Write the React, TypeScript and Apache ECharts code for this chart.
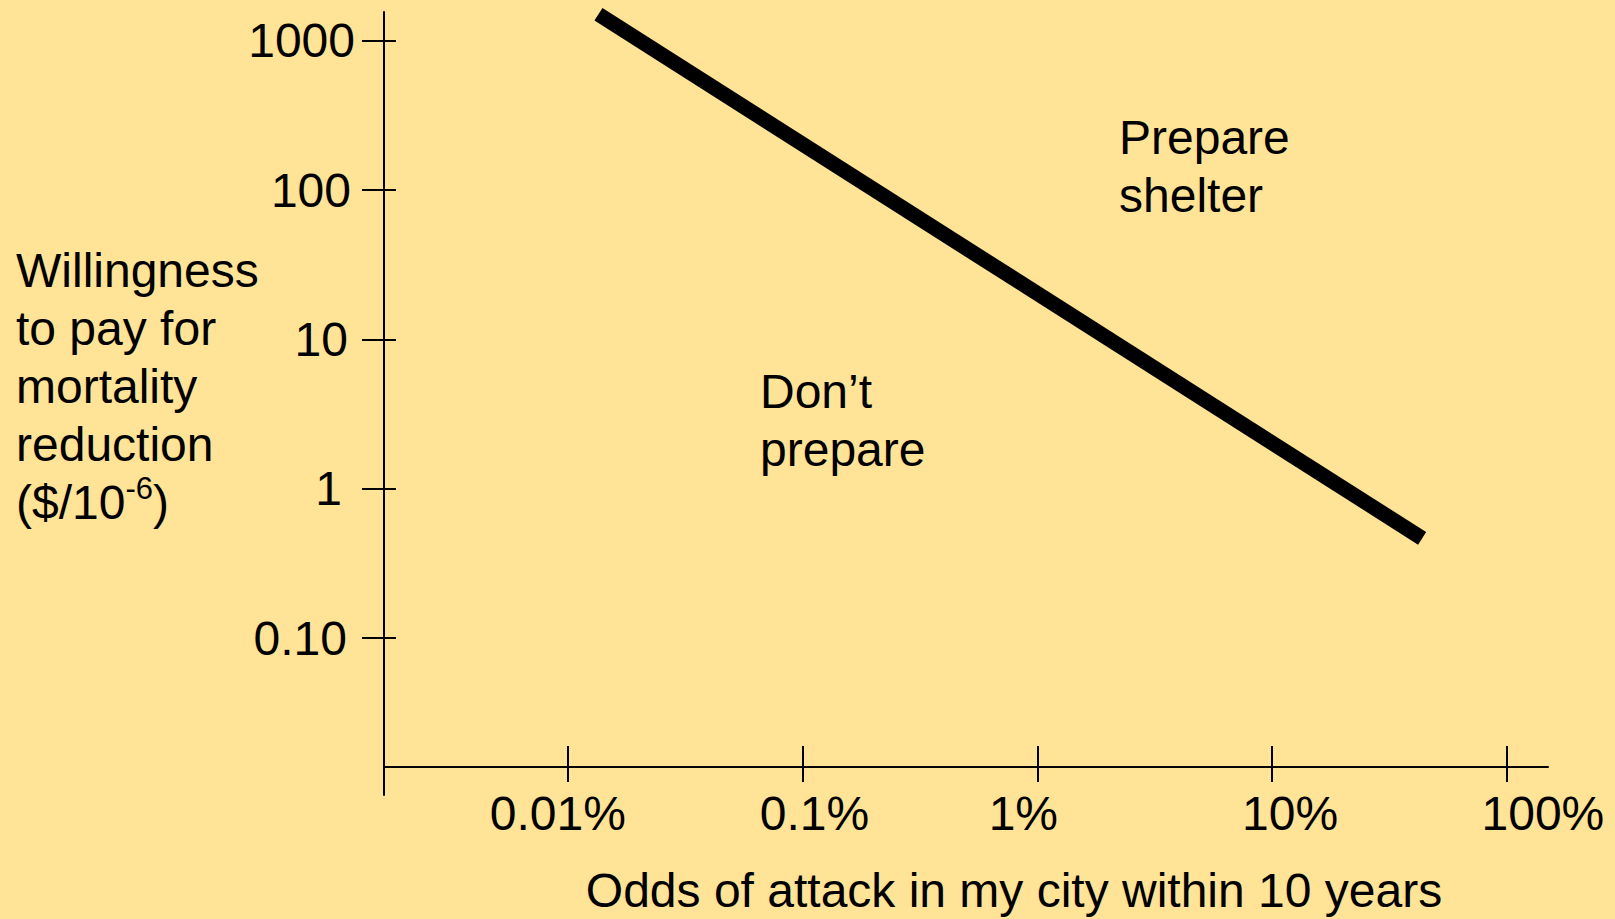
import React, { useEffect, useRef } from "react";
import * as echarts from "echarts";

// ---- data (percent odds on x, $/10^-6 on y) ----
const xTickValues = [0.01, 0.1, 1, 10, 100];
const xTickLabels = ["0.01%", "0.1%", "1%", "10%", "100%"];
const yTickValues = [0.1, 1, 10, 100, 1000];
const yTickLabels = ["0.10", "1", "10", "100", "1000"];
const xRange = [0.001649, 149.7];
const yRange = [0.008902, 1555];
const boundaryX = [0.01351, 43.56];
const boundaryY = [1501, 0.4654];
const xAxisTitle = "Odds of attack in my city within 10 years";
const yAxisTitleLines = ["Willingness", "to pay for", "mortality", "reduction", "($/10{sup|-6})"];
const regionAbove = ["Prepare", "shelter"];
const regionBelow = ["Don\u2019t", "prepare"];

const FONT = "'Liberation Sans', Arial, Helvetica, sans-serif";
const FS = 48;
const BG = "#FFE396";

// label nudges (positions, kept apart from the data)
const xLabelShift = [-10, 12, -14, 18, 36];
const yLabelPadRight = [8, 13, 7, 4, 0];

function idxOf(arr: number[], v: number) {
  let best = 0;
  let bd = Infinity;
  arr.forEach((a, i) => {
    const d = Math.abs(Math.log10(a) - Math.log10(v));
    if (d < bd) {
      bd = d;
      best = i;
    }
  });
  return best;
}

export default function App() {
  const ref = useRef<HTMLDivElement>(null);
  useEffect(() => {
    if (!ref.current) return;
    const chart = echarts.init(ref.current, undefined, { renderer: "svg" });

    const xRich: Record<string, any> = {};
    xTickLabels.forEach((_, i) => {
      const s = xLabelShift[i];
      xRich["x" + i] = {
        fontSize: FS,
        fontFamily: FONT,
        color: "#000",
        padding: s < 0 ? [0, -2 * s, 0, 0] : [0, 0, 0, 2 * s],
      };
    });
    const yRich: Record<string, any> = {};
    yTickLabels.forEach((_, i) => {
      yRich["y" + i] = {
        fontSize: FS,
        fontFamily: FONT,
        color: "#000",
        padding: [0, yLabelPadRight[i], 0, 0],
      };
    });

    const lineStyleAxis = { color: "#000", width: 2 };
    const baseX = {
      type: "log" as const,
      logBase: 10,
      min: xRange[0],
      max: xRange[1],
      position: "bottom" as const,
      offset: -28,
      splitLine: { show: false },
      gridIndex: 0,
    };
    const baseY = {
      type: "log" as const,
      logBase: 10,
      min: yRange[0],
      max: yRange[1],
      position: "left" as const,
      splitLine: { show: false },
      gridIndex: 0,
    };

    const option: any = {
      animation: false,
      backgroundColor: BG,
      grid: { left: 384, right: 67, top: 12, bottom: 122 },
      xAxis: [
        {
          ...baseX,
          axisLine: { show: true, lineStyle: lineStyleAxis },
          axisTick: { show: true, inside: false, length: 15, customValues: xTickValues, lineStyle: lineStyleAxis },
          axisLabel: {
            show: true,
            customValues: xTickValues,
            margin: 22,
            formatter: (v: number) => {
              const i = idxOf(xTickValues, v);
              return "{x" + i + "|" + xTickLabels[i] + "}";
            },
            rich: xRich,
          },
          name: xAxisTitle,
          nameLocation: "middle",
          nameGap: 99,
          nameTextStyle: {
            fontSize: FS,
            fontFamily: FONT,
            color: "#000",
            padding: [0, 0, 0, 96],
          },
        },
        {
          ...baseX,
          axisLine: { show: false },
          axisTick: { show: true, inside: true, length: 21, customValues: xTickValues, lineStyle: lineStyleAxis },
          axisLabel: { show: false },
        },
      ],
      yAxis: [
        {
          ...baseY,
          axisLine: { show: true, lineStyle: lineStyleAxis },
          axisTick: { show: true, inside: false, length: 22, customValues: yTickValues, lineStyle: lineStyleAxis },
          axisLabel: {
            show: true,
            customValues: yTickValues,
            margin: 29,
            formatter: (v: number) => {
              const i = idxOf(yTickValues, v);
              return "{y" + i + "|" + yTickLabels[i] + "}";
            },
            rich: yRich,
          },
        },
        {
          ...baseY,
          axisLine: { show: false },
          axisTick: { show: true, inside: true, length: 12, customValues: yTickValues, lineStyle: lineStyleAxis },
          axisLabel: { show: false },
        },
      ],
      series: [
        {
          type: "line",
          xAxisIndex: 0,
          yAxisIndex: 0,
          data: boundaryX.map((x, i) => [x, boundaryY[i]]),
          symbol: "none",
          lineStyle: { color: "#000", width: 15, cap: "butt" },
          silent: true,
        },
      ],
      graphic: [
        {
          type: "text",
          left: 16,
          top: 241,
          style: {
            text: yAxisTitleLines.join("\n"),
            fontSize: FS,
            fontFamily: FONT,
            fill: "#000",
            lineHeight: 58,
            rich: {
              sup: { fontSize: 31, fontFamily: FONT, fill: "#000", verticalAlign: "top", lineHeight: 31 },
            },
          },
        },
        {
          type: "text",
          left: 1119,
          top: 108,
          style: {
            text: regionAbove.join("\n"),
            fontSize: FS,
            fontFamily: FONT,
            fill: "#000",
            lineHeight: 58,
          },
        },
        {
          type: "text",
          left: 760,
          top: 362,
          style: {
            text: regionBelow.join("\n"),
            fontSize: FS,
            fontFamily: FONT,
            fill: "#000",
            lineHeight: 58,
          },
        },
      ],
    };

    chart.setOption(option);
    return () => chart.dispose();
  }, []);

  return (
    <div
      ref={ref}
      style={{ position: "fixed", left: 0, top: 0, width: 1615, height: 919, background: BG }}
    />
  );
}
